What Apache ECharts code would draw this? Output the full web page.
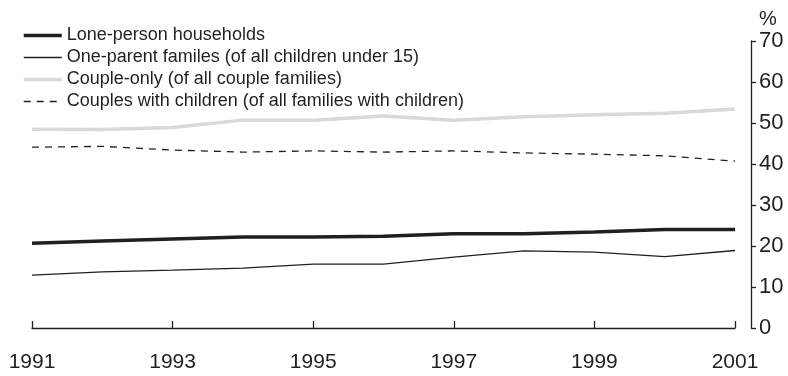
<!DOCTYPE html>
<html>
<head>
<meta charset="utf-8">
<script src="https://cdn.jsdelivr.net/npm/echarts@6/dist/echarts.min.js"></script>
<style>
  html, body { margin: 0; padding: 0; background: #fff; }
  #chart { width: 788px; height: 376px; }
</style>
</head>
<body>
<div id="chart"></div>
<script>
// years along the bottom
var years = ['1991','1992','1993','1994','1995','1996','1997','1998','1999','2000','2001'];

// % values
var lonePerson    = [20.7, 21.2, 21.7, 22.2, 22.2, 22.4, 23.0, 23.0, 23.4, 24.0, 24.0];
var oneParent     = [12.9, 13.7, 14.1, 14.6, 15.6, 15.6, 17.3, 18.8, 18.5, 17.4, 18.9];
var coupleOnly    = [48.5, 48.4, 48.9, 50.7, 50.7, 51.7, 50.7, 51.5, 52.0, 52.4, 53.4];
var coupleKids    = [44.1, 44.3, 43.4, 42.9, 43.2, 42.9, 43.2, 42.7, 42.4, 42.0, 40.7];

var names = [
  'Lone-person households',
  'One-parent familes (of all children under 15)',
  'Couple-only (of all couple families)',
  'Couples with children (of all families with children)'
];

var txt = '#231f20';
var grey = '#d9d9d9';
var fnt = '"Liberation Sans", Arial, sans-serif';

// line looks, shared by the series and their legend keys
var styles = [
  { color: txt, width: 3.5, type: 'solid' },
  { color: txt, width: 1.3, type: 'solid' },
  { color: grey, width: 3.5, type: 'solid' },
  { color: txt, width: 1.3, type: [7, 6] }
];

var option = {
  animation: false,
  backgroundColor: '#fff',
  grid: { left: 32, right: 53, top: 41, bottom: 48 },
  legend: {
    orient: 'vertical',
    left: 17, top: 21,
    itemWidth: 38, itemHeight: 12, itemGap: 3,
    textStyle: { color: txt, fontSize: 18, fontFamily: fnt, lineHeight: 19 },
    data: names.map(function (n, i) {
      return { name: n, itemStyle: { opacity: 0 }, lineStyle: styles[i] };
    })
  },
  xAxis: {
    type: 'category',
    data: years,
    boundaryGap: false,
    offset: 14,
    axisLine: { lineStyle: { color: txt, width: 1.3 } },
    axisTick: { inside: true, length: 7, lineStyle: { color: txt, width: 1.3 } },
    axisLabel: { interval: 1, color: txt, fontSize: 21, fontFamily: fnt, margin: 10 }
  },
  yAxis: {
    type: 'value',
    position: 'right',
    offset: 16,
    min: 0, max: 70, interval: 10,
    name: '%',
    nameGap: 12,
    nameTextStyle: { color: txt, fontSize: 20, fontFamily: fnt, align: 'center', padding: [0, 0, 0, 34] },
    splitLine: { show: false },
    axisLine: { show: true, lineStyle: { color: txt, width: 1.3 } },
    axisTick: { show: true, length: 5, lineStyle: { color: txt, width: 1.3 } },
    axisLabel: { color: txt, fontSize: 22, fontFamily: fnt, margin: 8 }
  },
  series: [
    { name: names[0], type: 'line', data: lonePerson, symbol: 'none',
      lineStyle: styles[0], itemStyle: { color: txt } },
    { name: names[1], type: 'line', data: oneParent, symbol: 'none',
      lineStyle: styles[1], itemStyle: { color: txt } },
    { name: names[2], type: 'line', data: coupleOnly, symbol: 'none',
      lineStyle: styles[2], itemStyle: { color: grey } },
    { name: names[3], type: 'line', data: coupleKids, symbol: 'none',
      lineStyle: styles[3], itemStyle: { color: txt } }
  ]
};

var myChart = echarts.init(document.getElementById('chart'));
myChart.setOption(option);
</script>
</body>
</html>
